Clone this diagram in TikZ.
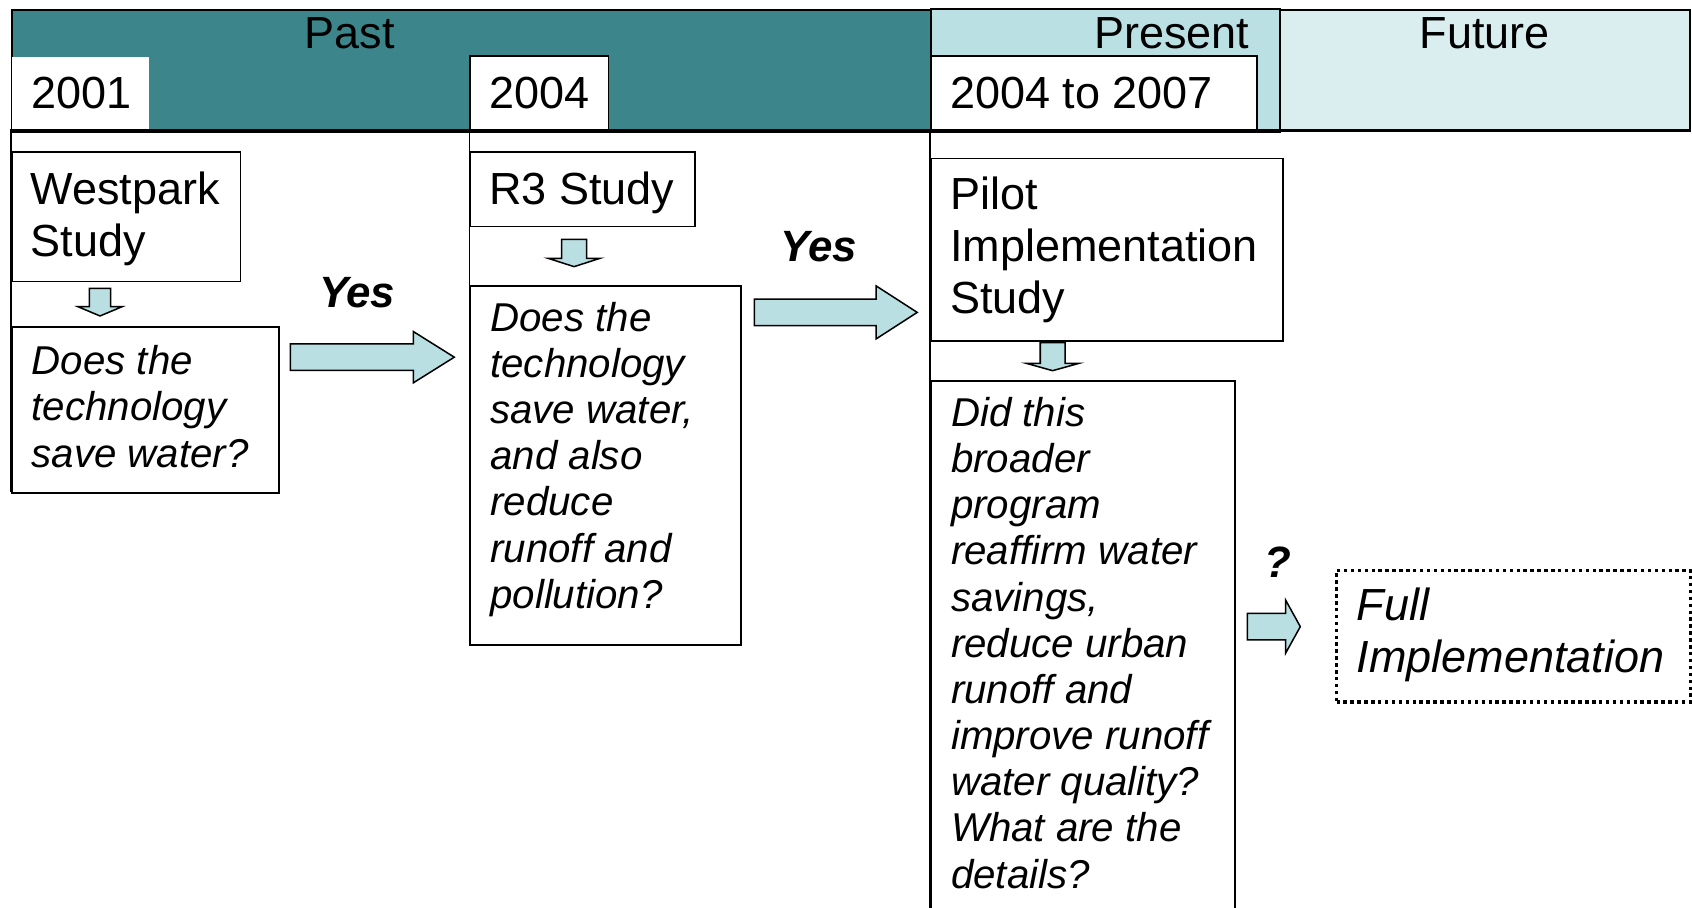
\documentclass[tikz,border=0pt]{standalone}
\usepackage{fontspec}
\setmainfont{Liberation Sans}
\definecolor{pastc}{RGB}{60,134,139}
\definecolor{presc}{RGB}{186,224,227}
\definecolor{futc}{RGB}{218,238,240}
\definecolor{arrc}{RGB}{185,223,226}
\tikzset{
  band/.style={draw=black, line width=1pt, anchor=north west, inner sep=0},
  yearbox/.style={draw=black, line width=0.8pt, fill=white, anchor=north west, inner sep=0},
  box/.style={draw=black, line width=0.8pt, fill=white, anchor=north west, inner sep=0},
  dotbox/.style={draw=black, line width=1.6pt, dash pattern=on 1.6pt off 1.6pt, anchor=north west, inner sep=0},
  bigt/.style={font=\fontsize{20.85}{24}\selectfont, inner sep=0, align=left},
  qt/.style={font=\fontsize{18.65}{21.4}\selectfont\itshape, inner sep=0, align=left},
  bigit/.style={font=\fontsize{20.85}{24}\selectfont\itshape, inner sep=0, align=left},
  yest/.style={font=\fontsize{20.3}{22}\selectfont\bfseries\itshape, inner sep=0},
  blk/.style={draw=black, line width=0.7pt, fill=arrc, line join=miter},
  coll/.style={draw=black, line width=0.8pt}
}
\begin{document}
\begin{tikzpicture}[x=0.5pt, y=-0.5pt]
\useasboundingbox (0,0) rectangle (1568,841);
\clip (0,0) rectangle (1568,841);

% header bands
\node[band, fill=pastc, minimum width=426pt, minimum height=56pt] (past) at (10,8) {};
\node[band, fill=presc, minimum width=161.5pt, minimum height=56.5pt] (pres) at (862,7) {};
\node[band, fill=futc, minimum width=190pt, minimum height=56pt] (fut) at (1185,8) {};
\node[bigt, anchor=base] (pastt) at (324,45) {Past};
\node[bigt, anchor=base] (prest) at (1086,45) {Present};
\node[bigt, anchor=base] (futt) at (1376,45) {Future};

% year boxes
\node[yearbox, draw=none, minimum width=63.5pt, minimum height=33.5pt] (y1) at (10.5,52) {};
\node[yearbox, minimum width=64pt, minimum height=34.5pt] (y2) at (435,51) {};
\node[yearbox, minimum width=151pt, minimum height=34.5pt] (y3) at (862,51) {};
\draw[line width=1pt] (past.south west) -- (pres.south east);
\node[bigt, anchor=west] (y1t) at ([xshift=9pt]y1.west) {2001};
\node[bigt, anchor=west] (y2t) at ([xshift=9pt]y2.west) {2004};
\node[bigt, anchor=west] (y3t) at ([xshift=9pt]y3.west) {2004 to 2007};

% column lines
\draw[coll] (10,120) -- (10,456);
\draw[coll] (435,120) -- (435,597);
\draw[coll] (862,120) -- (862,845);

% column 1
\node[box, minimum width=106pt, minimum height=60pt] (wp) at (10,140) {};
\node[bigt, anchor=west] (wpt) at ([xshift=9pt, yshift=-1pt]wp.west) {Westpark\\Study};
\node[box, minimum width=124pt, minimum height=77pt] (q1) at (10,302) {};
\node[qt, anchor=west] (q1t) at ([xshift=9.5pt, yshift=1.5pt]q1.west) {Does the\\technology\\save water?};

% column 2
\node[box, minimum width=104pt, minimum height=34.5pt] (r3) at (435,140) {};
\node[bigt, anchor=west] (r3t) at ([xshift=9pt, yshift=-1.5pt]r3.west) {R3 Study};
\node[box, minimum width=125.5pt, minimum height=166.5pt] (q2) at (435,264) {};
\node[qt, anchor=west] (q2t) at ([xshift=9.5pt, yshift=2.8pt]q2.west) {Does the\\technology\\save water,\\and also\\reduce\\runoff and\\pollution?};

% column 3
\node[box, minimum width=163pt, minimum height=84.5pt] (pil) at (862,146) {};
\node[bigt, anchor=west] (pilt) at ([xshift=9pt]pil.west) {Pilot\\Implementation\\Study};
\node[box, minimum width=141pt, minimum height=245.5pt] (q3) at (862,352) {};
\node[qt, anchor=west] (q3t) at ([xshift=9.5pt, yshift=1.3pt]q3.west) {Did this\\broader\\program\\reaffirm water\\savings,\\reduce urban\\runoff and\\improve runoff\\water quality?\\What are the\\details?};

% future
\node[dotbox, minimum width=164pt, minimum height=61pt] (full) at (1237,527) {};
\node[bigit, anchor=west] (fullt) at ([xshift=10pt, yshift=0.5pt]full.west) {Full\\Implementation};

% down arrows
\draw[blk] (82.8,267.2) -- (102.6,267.2) -- (102.6,284.2) -- (113.2,284.2) -- (92.7,292.8) -- (72.2,284.2) -- (82.8,284.2) -- cycle;
\draw[blk] (520.4,221.8) -- (543.6,221.8) -- (543.6,239.4) -- (556,239.4) -- (532,247.1) -- (508,239.4) -- (520.4,239.4) -- cycle;
\draw[blk] (964,317.6) -- (987,317.6) -- (987,336.7) -- (999.9,336.7) -- (975.5,343.5) -- (951.1,336.7) -- (964,336.7) -- cycle;

% right arrows
\draw[blk] (269,318.7) -- (383,318.7) -- (383,307.2) -- (421,331) -- (383,354.8) -- (383,343.3) -- (269,343.3) -- cycle;
\draw[blk] (699,277.2) -- (812,277.2) -- (812,265) -- (850,289.5) -- (812,314) -- (812,301.8) -- (699,301.8) -- cycle;
\draw[blk] (1156,568.4) -- (1191.5,568.4) -- (1191.5,556.3) -- (1205,580.7) -- (1191.5,605.1) -- (1191.5,593) -- (1156,593) -- cycle;

% labels
\node[yest] (yes1) at (331,271) {Yes};
\node[yest] (yes2) at (759,229) {Yes};
\node[yest] (qm) at (1184,521) {?};
\end{tikzpicture}
\end{document}
